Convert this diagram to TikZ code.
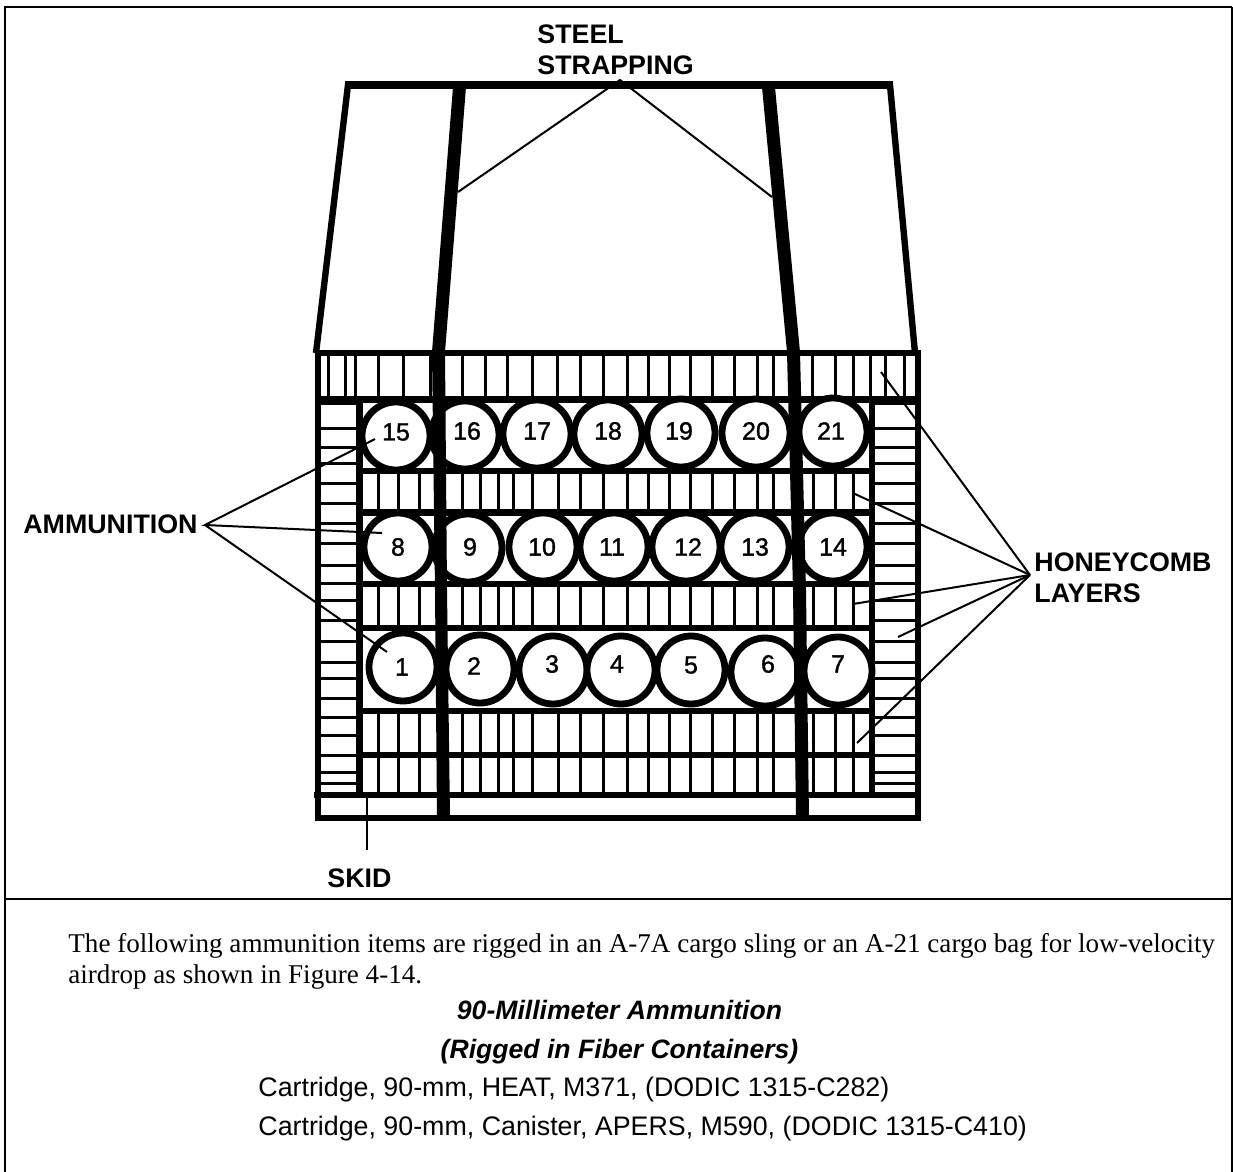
\documentclass[tikz,border=0pt]{standalone}
\usepackage{fontspec}
\setmainfont{Liberation Sans}
\newfontfamily\seriffont{Liberation Serif}
\newfontfamily\numfont[FakeBold=1.3]{Liberation Sans}
\newcommand{\honey}[3]{\edef\hlist{#3}\foreach \vx in \hlist {\draw[rung] (\vx,#1) -- (\vx,#2);}}
\newcommand{\ammo}[5]{\node[round] (c#1) at (#2,#3) {};\node[numlab] (n#1) at (#4,#5) {#1};}
\tikzset{
  x=0.5pt,y=-0.5pt,
  frameline/.style={line width=0.75pt,draw=black},
  framethick/.style={line width=1.2pt,draw=black},
  bar/.style={line width=3.1pt,draw=black,line cap=butt},
  rung/.style={line width=1.5pt,draw=black,line cap=butt},
  side/.style={line width=3.2pt,draw=black,line join=miter},
  round/.style={circle,draw=black,fill=white,line width=3.4pt,minimum size=34pt,inner sep=0pt},
  numlab/.style={inner sep=0pt,font=\numfont\fontsize{12.5}{12.5}\selectfont},
  leader/.style={line width=1pt,draw=black},
  lab/.style={font=\fontsize{13.4}{15.5}\selectfont\bfseries,align=left,inner sep=0pt},
  para/.style={font=\seriffont\fontsize{13.55}{15}\selectfont,anchor=base west,inner sep=0pt},
  body/.style={font=\fontsize{13.4}{15}\selectfont,anchor=base west,inner sep=0pt},
  head/.style={font=\fontsize{13.3}{15}\selectfont\bfseries\itshape,anchor=base,inner sep=0pt},
}
\begin{document}
\begin{tikzpicture}
\useasboundingbox (0,0) rectangle (1233,1172);
% frame
\coordinate (fa) at (5,7); \coordinate (fb) at (282,7);
\coordinate (fe) at (956,7); \coordinate (ff) at (1232,7);
\coordinate (fc) at (1232,1172); \coordinate (fd) at (5,1172);
\coordinate (ma) at (5,899); \coordinate (mb) at (1232,899);
\draw[framethick] (fd) -- (fa) -- (fb);
\draw[frameline] (fb) -- (fe);
\draw[framethick] (fe) -- (ff);
\draw[frameline] (ff) -- (fc);
\draw[framethick] (ma) -- (mb);
% honeycomb verticals
\def\layerV{378,398,419,462,480,498,513,532,558,580,603,627,648,669,690,712,734,757,773,813,835,853}
\honey{353}{400}{328,345,355,378,403,430,462,485,507,532,557,580,603,627,648,669,690,712,734,757,773,812,835,853,870,885,904}
\honey{471}{512}{\layerV}
\honey{584}{628}{\layerV}
\honey{711}{755}{\layerV}
\honey{755}{795}{\layerV}
% side ladders
\foreach \ry in {403,428,447,463,483,503,523,543,565,583,600,620,641,662,678,698,717,735,755,772,783} {
  \draw[rung] (320,\ry) -- (358,\ry);
  \draw[rung] (873,\ry) -- (917,\ry);
}
% bars
\draw[bar] (316,353) -- (921,353);
\draw[bar] (318,399.5) -- (918,399.5);
\draw[bar] (360,471) -- (872,471);
\draw[bar] (360,512.5) -- (872,512.5);
\draw[bar] (360,584) -- (872,584);
\draw[bar] (360,628) -- (872,628);
\draw[bar] (360,711) -- (872,711);
\draw[bar] (360,755) -- (872,755);
\draw[bar] (314,795) -- (918,795);
\draw[side] (318,351) -- (318,818) -- (918,818) -- (918,351);
\draw[side] (359.5,400) -- (359.5,798);
\draw[side] (872,400) -- (872,798);
% circles
\ammo{15}{396}{436}{396}{432}\ammo{16}{465}{435}{467}{431}\ammo{17}{537}{434}{537}{431}\ammo{18}{608}{434}{608}{431}\ammo{19}{681}{433}{679}{431}\ammo{20}{756}{433}{756}{431}\ammo{21}{833}{432}{831}{431}
\ammo{8}{398}{547}{398}{547}\ammo{9}{468}{548}{470}{547}\ammo{10}{543}{547}{542}{547}\ammo{11}{614}{547}{612}{547}\ammo{12}{686}{547}{688}{547}\ammo{13}{755}{547}{755}{547}\ammo{14}{833}{547}{833}{547}
\ammo{1}{403}{667}{402}{667}\ammo{2}{480}{669}{474}{666}\ammo{3}{553}{670}{552}{664}\ammo{4}{621}{670}{617}{664}\ammo{5}{691}{670}{691}{665}\ammo{6}{765}{672}{768}{664}\ammo{7}{838}{671}{838}{664}
% sling outline
\draw[side] (316,353) -- (348,85) -- (890,85) -- (915,353);
\draw[line width=4pt] (345,85) -- (893,85);
% straps
\fill[black] (453,87) -- (466,87) -- (445,352) -- (447,590) -- (450,818) -- (437,818) -- (435,590) -- (432,352) -- cycle;
\fill[black] (762,87) -- (775,87) -- (800,352) -- (806,590) -- (809,818) -- (796,818) -- (793,590) -- (787,352) -- cycle;
% leaders and labels
\node[lab,anchor=base west] (steel) at (537,44) {STEEL};
\node[lab,anchor=base west] (strapping) at (537,75) {STRAPPING};
\coordinate (sa) at (620,80);
\coordinate (sl) at (458,192);
\coordinate (sr) at (772,197);
\draw[leader] (sl) -- (sa) -- (sr);
\node[lab,anchor=base west] (ammunition) at (23,533) {AMMUNITION};
\coordinate (aa) at (205,525);
\coordinate (a15) at (375,439);
\coordinate (a8) at (382,533);
\coordinate (a1) at (387,652);
\draw[leader] (a15) -- (aa) -- (a8) (aa) -- (a1);
\node[lab,anchor=base west] (honeyb) at (1034,571) {HONEYCOMB};
\node[lab,anchor=base west] (layers) at (1034,602) {LAYERS};
\coordinate (ha) at (1030,575);
\coordinate (h1) at (881,372);
\coordinate (h2) at (855,494);
\coordinate (h3) at (853,604);
\coordinate (h4) at (898,637);
\coordinate (h5) at (857,743);
\foreach \h in {h1,h2,h3,h4,h5} {\draw[leader] (ha) -- (\h);}
\coordinate (sk) at (367,797);
\coordinate (skb) at (367,850);
\draw[leader] (sk) -- (skb);
\node[lab,anchor=base west] (skid) at (327,887) {SKID};
% text
\node[para] (p1) at (68,952) {The following ammunition items are rigged in an A-7A cargo sling or an A-21 cargo bag for low-velocity};
\node[para] (p2) at (68,983) {airdrop as shown in Figure 4-14.};
\node[head] (t1) at (619.5,1019) {90-Millimeter Ammunition};
\node[head] (t2) at (619.5,1058) {(Rigged in Fiber Containers)};
\node[body] (b1) at (258,1096) {Cartridge, 90-mm, HEAT, M371, (DODIC 1315-C282)};
\node[body] (b2) at (258,1135) {Cartridge, 90-mm, Canister, APERS, M590, (DODIC 1315-C410)};
\end{tikzpicture}
\end{document}
